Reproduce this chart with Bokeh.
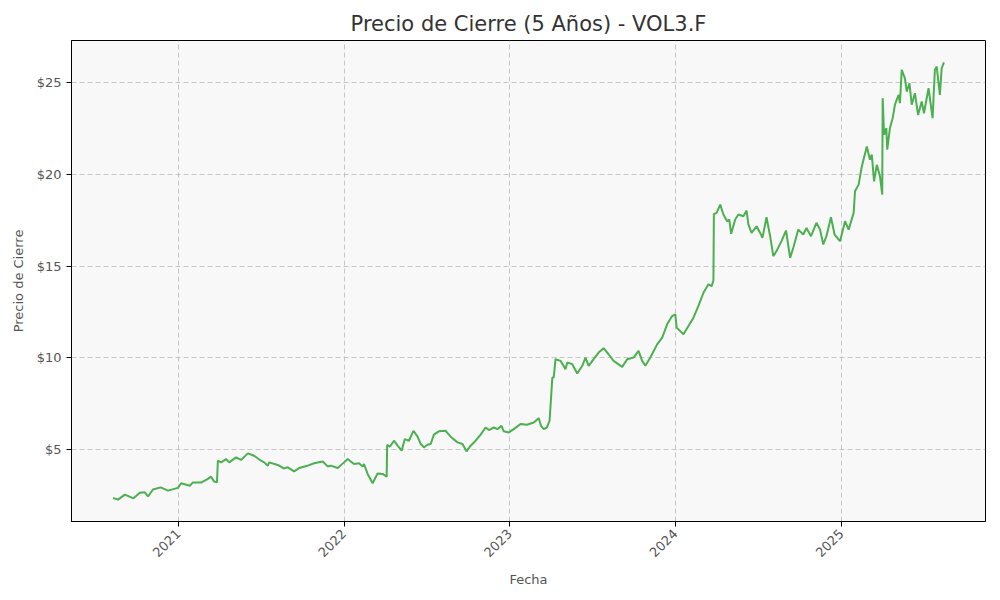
"""Precio de cierre de VOL3.F en los ultimos 5 anos, grafico de linea."""

from math import pi

import pandas as pd

import bokeh.plotting
from bokeh.models import (
    ColumnDataSource,
    Range1d,
    FixedTicker,
    NumeralTickFormatter,
    DatetimeTickFormatter,
)
from bokeh.embed import file_html
from bokeh.resources import INLINE


# Valores (fecha, cierre)
dates = [
    "2020-08-10", "2020-08-21", "2020-09-05", "2020-09-24", "2020-10-08",
    "2020-10-19", "2020-10-26", "2020-11-06", "2020-11-23", "2020-12-09",
    "2020-12-31", "2021-01-07", "2021-01-26", "2021-02-02", "2021-02-20",
    "2021-03-07", "2021-03-14", "2021-03-21", "2021-03-27", "2021-03-29",
    "2021-04-05", "2021-04-16", "2021-04-23", "2021-05-08", "2021-05-19",
    "2021-06-03", "2021-06-17", "2021-07-02", "2021-07-09", "2021-07-17",
    "2021-07-20", "2021-08-08", "2021-08-21", "2021-08-30", "2021-09-13",
    "2021-09-24", "2021-10-13", "2021-10-27", "2021-11-15", "2021-11-26",
    "2021-12-03", "2021-12-18", "2022-01-01", "2022-01-09", "2022-01-23",
    "2022-02-03", "2022-02-11", "2022-02-14", "2022-02-22", "2022-03-05",
    "2022-03-16", "2022-03-27", "2022-04-05", "2022-04-06", "2022-04-12",
    "2022-04-21", "2022-04-29", "2022-05-08", "2022-05-15", "2022-05-24",
    "2022-06-03", "2022-06-12", "2022-06-19", "2022-06-26", "2022-07-04",
    "2022-07-11", "2022-07-18", "2022-07-29", "2022-08-13", "2022-08-24",
    "2022-09-08", "2022-09-19", "2022-09-28", "2022-10-07", "2022-10-18",
    "2022-10-29", "2022-11-09", "2022-11-16", "2022-11-27", "2022-12-05",
    "2022-12-14", "2022-12-19", "2022-12-30", "2023-01-10", "2023-01-25",
    "2023-02-08", "2023-02-23", "2023-03-06", "2023-03-11", "2023-03-17",
    "2023-03-24", "2023-03-30", "2023-04-05", "2023-04-08", "2023-04-12",
    "2023-04-23", "2023-05-04", "2023-05-08", "2023-05-19", "2023-05-30",
    "2023-06-10", "2023-06-17", "2023-06-24", "2023-07-05", "2023-07-16",
    "2023-07-27", "2023-08-07", "2023-08-18", "2023-09-06", "2023-09-17",
    "2023-10-01", "2023-10-12", "2023-10-20", "2023-10-27", "2023-11-07",
    "2023-11-22", "2023-12-03", "2023-12-14", "2023-12-25", "2024-01-01",
    "2024-01-04", "2024-01-19", "2024-01-30", "2024-02-10", "2024-02-21",
    "2024-03-03", "2024-03-14", "2024-03-21", "2024-03-25", "2024-03-26",
    "2024-04-01", "2024-04-09", "2024-04-16", "2024-04-24", "2024-04-29",
    "2024-05-03", "2024-05-12", "2024-05-19", "2024-05-30", "2024-06-06",
    "2024-06-10", "2024-06-17", "2024-06-28", "2024-07-06", "2024-07-11",
    "2024-07-20", "2024-07-28", "2024-08-04", "2024-08-11", "2024-08-22",
    "2024-09-01", "2024-09-10", "2024-09-17", "2024-09-28", "2024-10-09",
    "2024-10-16", "2024-10-26", "2024-11-07", "2024-11-15", "2024-11-22",
    "2024-11-29", "2024-12-09", "2024-12-17", "2024-12-29", "2025-01-09",
    "2025-01-17", "2025-01-28", "2025-01-31", "2025-02-08", "2025-02-15",
    "2025-02-26", "2025-03-05", "2025-03-09", "2025-03-14", "2025-03-20",
    "2025-03-27", "2025-04-01", "2025-04-02", "2025-04-05", "2025-04-10",
    "2025-04-12", "2025-04-18", "2025-04-24", "2025-04-29", "2025-05-07",
    "2025-05-10", "2025-05-14", "2025-05-21", "2025-05-25", "2025-05-31",
    "2025-06-05", "2025-06-12", "2025-06-19", "2025-06-27", "2025-07-02",
    "2025-07-12", "2025-07-21", "2025-07-26", "2025-07-30", "2025-08-06",
    "2025-08-10", "2025-08-15",
]

close = [
    2.37, 2.28, 2.55, 2.35, 2.65,
    2.68, 2.45, 2.83, 2.95, 2.77,
    2.92, 3.17, 3.04, 3.22, 3.21,
    3.41, 3.53, 3.26, 3.22, 4.40,
    4.31, 4.49, 4.31, 4.58, 4.44,
    4.80, 4.67, 4.40, 4.31, 4.13,
    4.31, 4.17, 3.98, 4.04, 3.82,
    4.00, 4.13, 4.26, 4.36, 4.09,
    4.13, 4.00, 4.31, 4.49, 4.22,
    4.26, 4.08, 4.22, 3.68, 3.17,
    3.71, 3.68, 3.53, 5.27, 5.16,
    5.49, 5.22, 4.95, 5.58, 5.49,
    6.03, 5.71, 5.31, 5.13, 5.27,
    5.31, 5.82, 6.00, 6.03, 5.71,
    5.40, 5.31, 4.91, 5.22, 5.49,
    5.82, 6.21, 6.07, 6.21, 6.12,
    6.30, 6.00, 5.94, 6.12, 6.40,
    6.36, 6.48, 6.72, 6.30, 6.12,
    6.21, 6.58, 8.93, 8.93, 9.93,
    9.84, 9.39, 9.75, 9.66, 9.15,
    9.57, 10.02, 9.57, 9.93, 10.29,
    10.53, 10.20, 9.84, 9.51, 9.93,
    10.02, 10.38, 9.84, 9.57, 10.02,
    10.74, 11.10, 11.83, 12.28, 12.37,
    11.65, 11.29, 11.74, 12.19, 12.83,
    13.55, 14.01, 13.91, 14.22, 17.84,
    17.90, 18.35, 17.81, 17.45, 17.54,
    16.76, 17.54, 17.81, 17.72, 18.03,
    17.27, 16.81, 17.17, 16.81, 16.54,
    17.66, 16.63, 15.54, 15.82, 16.36,
    16.94, 15.45, 16.00, 16.99, 16.72,
    17.08, 16.63, 17.36, 16.99, 16.18,
    16.63, 17.66, 16.72, 16.36, 17.45,
    16.99, 17.90, 19.08, 19.44, 20.43,
    21.52, 20.80, 21.07, 19.62, 20.52,
    19.89, 18.89, 24.15, 22.16, 22.52,
    21.34, 22.52, 23.06, 23.79, 24.33,
    23.88, 25.69, 25.23, 24.51, 24.96,
    23.79, 24.42, 23.24, 23.97, 23.33,
    24.69, 23.06, 25.69, 25.87, 24.33,
    25.78, 26.10,
]

tick_years = ["2021", "2022", "2023", "2024", "2025"]
price_ticks = [5, 10, 15, 20, 25]

font = "DejaVu Sans"
text_color = "#555555"

df = pd.DataFrame({"fecha": pd.to_datetime(dates), "cierre": close})
source = ColumnDataSource(df)

# Margenes de 5% como en matplotlib
t0, t1 = df["fecha"].min(), df["fecha"].max()
dt = (t1 - t0) * 0.05
y0, y1 = df["cierre"].min(), df["cierre"].max()
dy = (y1 - y0) * 0.05

p = bokeh.plotting.figure(
    width=1000,
    height=600,
    x_axis_type="datetime",
    x_range=Range1d(t0 - dt, t1 + dt),
    y_range=Range1d(y0 - dy, y1 + dy),
    title="Precio de Cierre (5 Años) - VOL3.F",
    x_axis_label="Fecha",
    y_axis_label="Precio de Cierre",
    output_backend="svg",
    toolbar_location=None,
    min_border_left=71,
    min_border_right=15,
    min_border_top=40,
    min_border_bottom=79,
)

p.line(x="fecha", y="cierre", source=source, line_color="#4CAF50", line_width=2)

# Titulo
p.title.align = "center"
p.title.text_font = font
p.title.text_font_size = "21px"
p.title.text_font_style = "normal"
p.title.text_color = "#333333"
p.title.offset = 0

# Fondo y marco
p.background_fill_color = "#f8f8f8"
p.border_fill_color = "white"
p.outline_line_color = "black"
p.outline_line_width = 1

# Ejes
tick_ms = [pd.Timestamp(y + "-01-01").value // 10**6 for y in tick_years]
p.xaxis.ticker = FixedTicker(ticks=tick_ms)
p.xaxis.formatter = DatetimeTickFormatter(years="%Y", months="%Y", days="%Y")
p.xaxis.major_label_orientation = pi / 4
p.yaxis.ticker = FixedTicker(ticks=price_ticks)
p.yaxis.formatter = NumeralTickFormatter(format="$0")

for ax in [p.xaxis[0], p.yaxis[0]]:
    ax.axis_line_color = "black"
    ax.major_tick_line_color = "black"
    ax.major_tick_in = 0
    ax.major_tick_out = 5
    ax.minor_tick_line_color = None
    ax.major_label_text_font = font
    ax.major_label_text_font_size = "13px"
    ax.major_label_text_color = text_color
    ax.axis_label_text_font = font
    ax.axis_label_text_font_size = "13px"
    ax.axis_label_text_font_style = "normal"
    ax.axis_label_text_color = text_color
    ax.axis_label_standoff = 8

# Rejilla punteada
p.grid.grid_line_color = "#b0b0b0"
p.grid.grid_line_alpha = 0.7
p.grid.grid_line_dash = "5 3"
p.grid.grid_line_width = 1

open("out.html", "w").write(file_html(p, INLINE))
